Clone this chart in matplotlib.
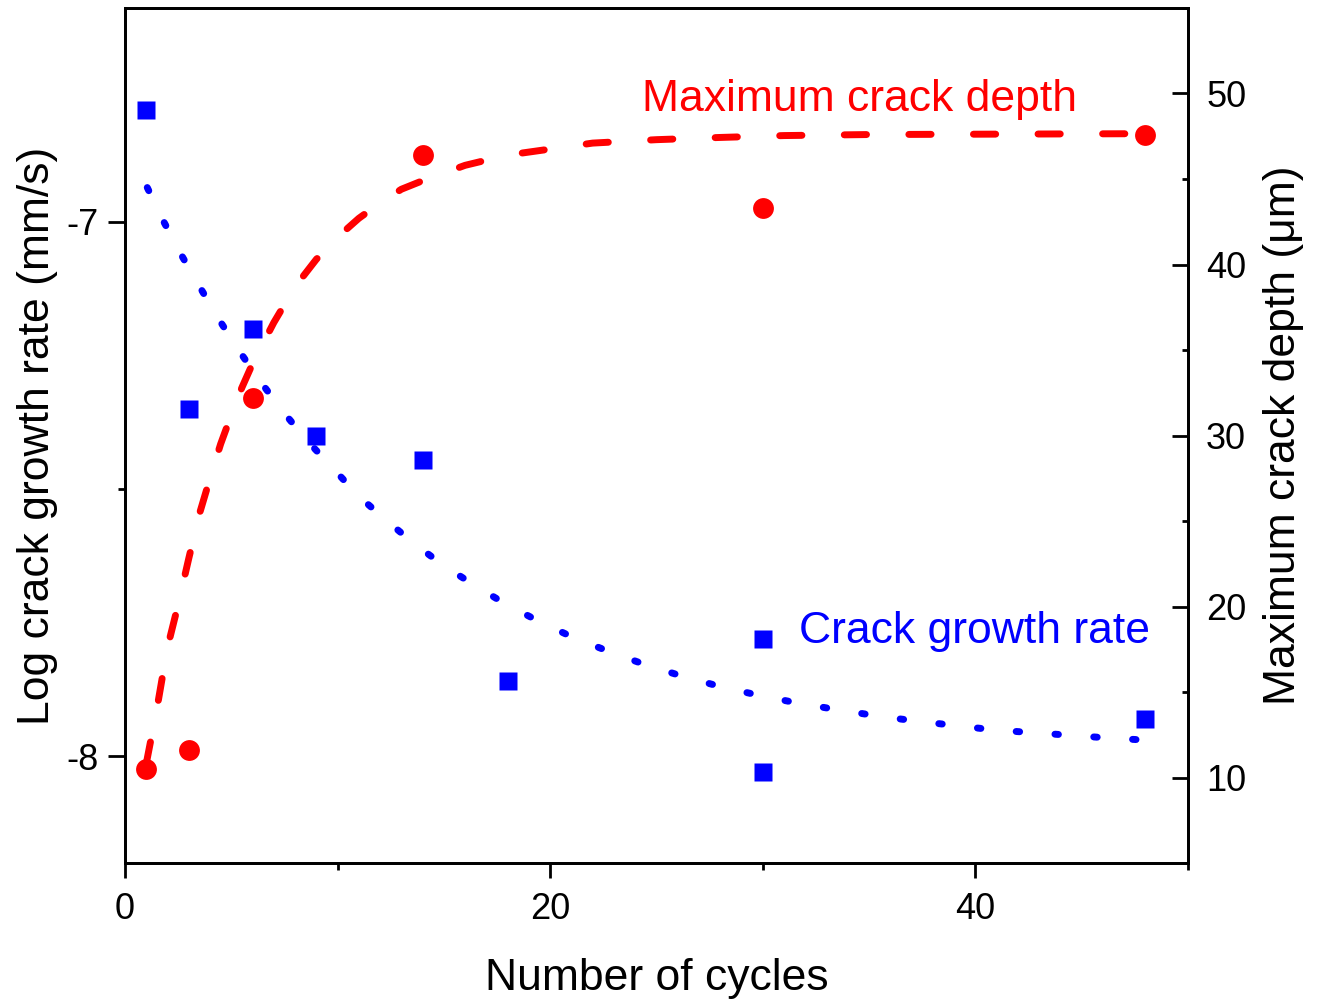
import matplotlib
matplotlib.use("Agg")
import matplotlib.pyplot as plt
from matplotlib.ticker import MultipleLocator, FixedLocator

plt.rcParams['font.family'] = ['Liberation Sans', 'DejaVu Sans']
plt.rcParams['axes.unicode_minus'] = False

# measured crack growth rate (log mm/s)
rate_cycles = [1, 3, 6, 9, 14, 18, 30, 30, 48]
rate_log = [-6.79, -7.35, -7.20, -7.40, -7.445, -7.86, -7.78, -8.03, -7.93]

# measured maximum crack depth (um)
depth_cycles = [1, 3, 6, 14, 30, 48]
depth_um = [10.5, 11.6, 32.2, 46.4, 43.3, 47.6]

# fitted trend for crack growth rate
rate_fit_x = [1.05, 1.84, 2.68, 3.52, 4.44, 5.36, 6.37, 7.45, 8.55, 9.69, 10.95,
              12.27, 13.59, 15.01, 16.47, 17.93, 19.53, 21.14, 22.82, 24.48, 26.26,
              28.02, 29.79, 31.55, 33.33, 35.58, 37.36, 39.11, 40.89, 42.67, 44.47,
              46.24, 48.0]
rate_fit_y = [-6.936, -7.001, -7.064, -7.122, -7.184, -7.241, -7.299, -7.356, -7.409,
              -7.457, -7.512, -7.558, -7.602, -7.644, -7.681, -7.716, -7.749, -7.779,
              -7.805, -7.829, -7.851, -7.870, -7.886, -7.900, -7.912, -7.926, -7.935,
              -7.943, -7.951, -7.956, -7.961, -7.966, -7.970]

# fitted trend for maximum crack depth
depth_fit_x = [1.0, 1.5, 2.0, 2.5, 3.0, 3.5, 4.0, 4.5, 5.0, 5.5, 6.0, 7.0, 8.0, 9.0,
               10.0, 11.0, 12.0, 13.0, 14.0, 16.0, 18.0, 20.0, 22.0, 25.0, 28.0, 31.0,
               35.0, 40.0, 48.0]
depth_fit_y = [10.8, 14.0, 17.6, 20.1, 22.8, 25.4, 27.5, 29.5, 31.2, 32.8, 34.2, 36.6,
               38.7, 40.3, 41.6, 42.7, 43.6, 44.4, 44.9, 45.8, 46.4, 46.75, 47.1, 47.3,
               47.43, 47.54, 47.6, 47.62, 47.65]

fig = plt.figure(figsize=(13.25, 10), dpi=100)
ax = fig.add_axes([0.0943, 0.137, 0.8023, 0.855])
ax2 = ax.twinx()

# left axis: growth rate
ax.plot(rate_fit_x, rate_fit_y, color='blue', lw=5,
        linestyle=(0, (0.5, 5.1)), dash_capstyle='round')
ax.plot(rate_cycles, rate_log, 's', color='blue', ms=13, mec='none')

# right axis: crack depth
ax2.plot(depth_fit_x, depth_fit_y, color='red', lw=5,
         linestyle=(0, (3.2, 6.1)), dash_capstyle='round')
ax2.plot(depth_cycles, depth_um, 'o', color='red', ms=15, mec='none')

ax.set_xlim(0, 50)
ax.set_ylim(-8.2, -6.6)
ax2.set_ylim(5, 55)

ax.xaxis.set_major_locator(FixedLocator([0, 20, 40]))
ax.xaxis.set_minor_locator(FixedLocator([10, 30, 50]))
ax.yaxis.set_major_locator(FixedLocator([-8, -7]))
ax.yaxis.set_minor_locator(FixedLocator([-7.5]))
ax2.yaxis.set_major_locator(MultipleLocator(10))
ax2.yaxis.set_minor_locator(MultipleLocator(5))

for a in (ax, ax2):
    for s in a.spines.values():
        s.set_linewidth(2)

ax.tick_params(axis='x', which='both', direction='out', top=False, width=2, labelsize=26, pad=10)
ax.tick_params(axis='x', which='major', length=11)
ax.tick_params(axis='x', which='minor', length=5)
ax.tick_params(axis='y', which='both', direction='out', right=False, width=2, labelsize=26, pad=7)
ax.tick_params(axis='y', which='major', length=12)
ax.tick_params(axis='y', which='minor', length=5)
ax2.tick_params(axis='y', which='both', direction='in', width=2, labelsize=26, pad=13)
ax2.tick_params(axis='y', which='major', length=11.5)
ax2.tick_params(axis='y', which='minor', length=4.5)

ax.set_xlabel('Number of cycles', fontsize=32, labelpad=22)
ax.set_ylabel('Log crack growth rate (mm/s)', fontsize=32, labelpad=6)
ax2.set_ylabel('Maximum crack depth (μm)', fontsize=32, labelpad=12, rotation=90)

ax2.text(24.3, 49.0, 'Maximum crack depth', color='red', fontsize=32,
         ha='left', va='baseline')
ax.text(31.7, -7.789, 'Crack growth rate', color='blue', fontsize=32,
        ha='left', va='baseline')

fig.savefig('out.png', dpi=100)
